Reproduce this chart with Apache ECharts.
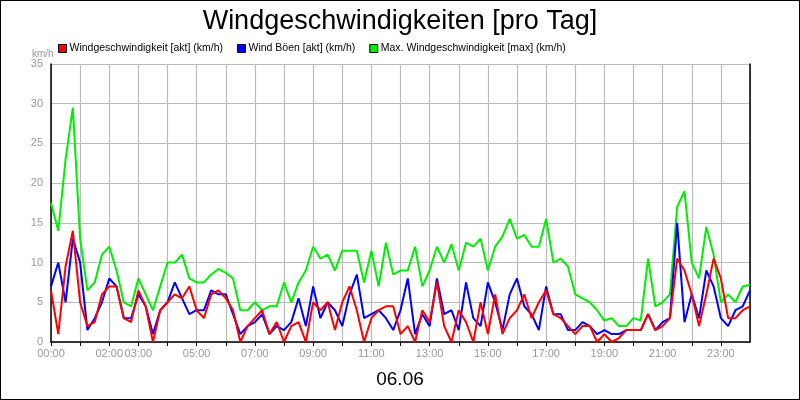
<!DOCTYPE html>
<html>
<head>
<meta charset="utf-8">
<script src="https://cdn.jsdelivr.net/npm/echarts@6/dist/echarts.min.js"></script>
<style>
html,body{margin:0;padding:0;background:#fff}
#main{width:798px;height:398px;border:1px solid #000}
</style>
</head>
<body>
<div id="main"></div>
<script>
// 15-Minuten-Werte, 00:00 bis 24:00
var stepHours = 0.25
var windAkt = [6.5,1,9.5,14,5,2,2.5,6,7,7,3,2.5,6.5,4.5,0,4,5,6,5.5,7,4,3,6,6.5,5.5,4,0,2,3,4,1,2.5,0,2,2.5,0,5,4,5,1.5,5,7,4,0,3,4,4.5,
  4.5,1,2,0,4,2.5,7.5,2,0,4,2.5,0,5,1,6,1,3,4,6,3,5,6.5,3.5,3,2,1,2,2,0,1,0,0.5,1.5,1.5,1.5,3.5,1.5,2,3,10.5,9,6,2,6,10.5,8,3,3,4,4.5]
var windBoeen = [7,10,5,13,10,1.5,3,5,8,7,3,3,6,4.5,1,4,5,7.5,5.5,3.5,4,4,6.5,6,6,3.5,1,2,2.5,3.5,1,2,1.5,2.5,5.5,2,7,3,5,4,2,6,8.5,3,3.5,4,3,
  1.5,4,8,1,3.5,2,8,3.5,4,1.5,7.5,3,2,7.5,5,1.5,6,8,4.5,3.5,1.5,7,3.5,3.5,1.5,1.5,2.5,2,1,1.5,1,1,1.5,1.5,1.5,3.5,1.5,2.5,3,15,2.5,6,3,9,7,3,2,4,4.5,6.5]
var windMax = [17.5,14,23,29.5,13,6.5,7.5,11,12,9,5,4.5,8,6,4,7,10,10,11,8,7.5,7.5,8.5,9.2,8.7,8,4,4,5,4,4.5,4.5,7.5,5,7.5,9,12,10.5,11,9,11.5,11.5,11.5,7.5,11.5,7,12.5,
  8.5,9,9,12,7,9,12,10,12.3,9,12.5,12,13,9,12,13.3,15.5,13,13.5,12,12,15.5,10,10.5,9.5,6,5.5,5,4,2.7,3,2,2,3,2.7,10.5,4.5,5,6,17,19,10,8,14.5,11,5,6,5,7,7.2]
var hourLabels = [0,2,3,5,7,9,11,13,15,17,19,21,23]
var dateLabel = '06.06'

function toPairs(arr){
  return arr.map(function(v,i){ return [i*stepHours, v] })
}
function pad(h){ return (h<10?'0':'')+h+':00' }

var myChart = echarts.init(document.getElementById('main'))
var lineStyle = function(c){ return {color:c, width:2} }
var option = {
  backgroundColor:'#fff',
  animation:false,
  textStyle:{fontFamily:'Liberation Sans, Arial, sans-serif'},
  title:[
    {text:'Windgeschwindigkeiten [pro Tag]', left:'center', top:2,
     textStyle:{fontSize:27, fontWeight:'normal', color:'#000'}},
    {text:dateLabel, left:'center', top:364,
     textStyle:{fontSize:19, fontWeight:'normal', color:'#000'}},
    {text:'km/h', left:26, top:43, textStyle:{fontSize:10, fontWeight:'normal', color:'#999'}}
  ],
  legend:{
    top:37, left:52, itemGap:14, itemWidth:8, itemHeight:8, icon:'rect',
    textStyle:{fontSize:10.5, color:'#000', padding:[0,0,0,-2]},
    itemStyle:{borderColor:'#000', borderWidth:1}
  },
  grid:{left:50, right:49, top:63, bottom:57},
  xAxis:{
    type:'value', min:0, max:24, interval:1,
    axisLine:{lineStyle:{color:'#000', width:1.5}},
    axisTick:{show:true, lineStyle:{color:'#000'}, length:4},
    axisLabel:{color:'#999', fontSize:11, margin:6, showMaxLabel:false,
      formatter:function(v){ return hourLabels.indexOf(v) >= 0 ? pad(v) : '' }},
    splitLine:{show:true, lineStyle:{color:'#bbb', width:1.2}}
  },
  yAxis:[{
    type:'value', min:0, max:35, interval:5,
    axisLine:{show:true, lineStyle:{color:'#000', width:1.5}},
    axisTick:{show:false},
    axisLabel:{color:'#999', fontSize:11, margin:8},
    splitLine:{show:true, lineStyle:{color:'#bbb', width:1.2}}
  },{
    type:'value', min:0, max:35, interval:5, position:'right',
    axisLine:{show:true, lineStyle:{color:'#000', width:1.5}},
    axisTick:{show:false}, axisLabel:{show:false}, splitLine:{show:false}
  }],
  series:[
    {name:'Windgeschwindigkeit [akt] (km/h)', type:'line', showSymbol:false, z:4,
     data:toPairs(windAkt), itemStyle:{color:'#ff0000'}, lineStyle:lineStyle('#ff0000')},
    {name:'Wind Böen [akt] (km/h)', type:'line', showSymbol:false, z:3,
     data:toPairs(windBoeen), itemStyle:{color:'#0000ff'}, lineStyle:lineStyle('#0000ff')},
    {name:'Max. Windgeschwindigkeit [max] (km/h)', type:'line', showSymbol:false, z:2,
     data:toPairs(windMax), itemStyle:{color:'#00ee00'}, lineStyle:lineStyle('#00ee00')}
  ]
}
myChart.setOption(option)
</script>
</body>
</html>
